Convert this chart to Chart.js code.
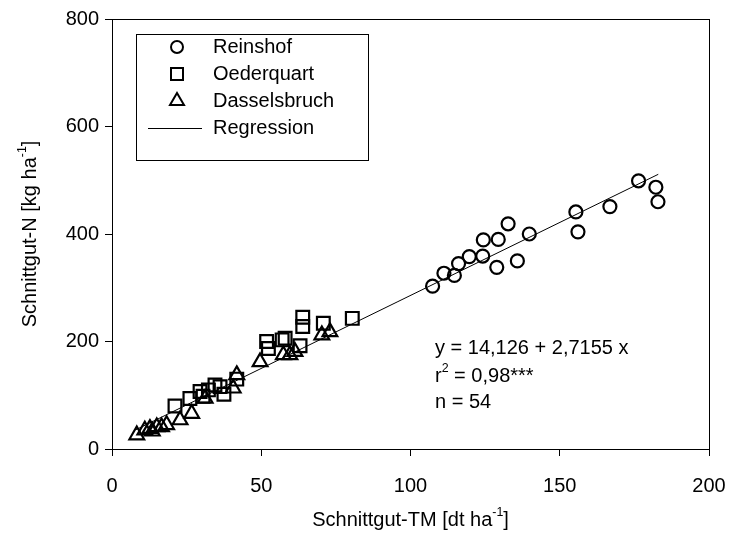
<!DOCTYPE html>
<html>
<head>
<meta charset="utf-8">
<script src="https://cdn.jsdelivr.net/npm/chart.js@4.4.1/dist/chart.umd.min.js"></script>
<style>
  body { margin: 0; background: #fff; }
  canvas { display: block; }
</style>
</head>
<body>
<canvas id="myChart" width="730" height="537"></canvas>
<script>
'use strict';
// data
let reinX = [107.4, 111.2, 114.7, 116.1, 119.7, 124.2, 124.4, 128.9, 129.4, 132.7, 135.8, 139.8, 155.4, 156.1, 166.8, 176.4, 182.2, 182.9];
let reinY = [303, 327, 323, 345, 358, 359, 389, 338, 390, 419, 350, 400, 441, 404, 451, 499, 487, 460];
let oedX = [21.1, 26.1, 29.5, 30.5, 32.3, 34.5, 36.2, 37.5, 41.8, 51.8, 52.4, 57, 58, 63, 63.9, 63.9, 70.8, 80.5];
let oedY = [80, 94, 107, 98, 110, 119, 116, 102, 130, 200, 187, 203, 206, 192, 245, 228, 234, 243];
let dasX = [8.3, 11, 12.7, 13.5, 15, 16.6, 18.3, 22.8, 26.7, 31.2, 40.6, 41.8, 49.6, 57.4, 59.6, 61.3, 70.3, 73];
let dasY = [26, 35, 38, 33, 41, 41, 45, 54, 66, 94, 113, 138, 162, 175, 175, 181, 212, 218];
let regX = [8, 183];
let regIntercept = 14.126;
let regSlope = 2.7155;
let xTicks = [0, 50, 100, 150, 200];
let yTicks = [0, 200, 400, 600, 800];
let legendNames = ['Reinshof', 'Oederquart', 'Dasselsbruch', 'Regression'];
let statLines = ['y = 14,126 + 2,7155 x', 'r2 = 0,98***', 'n = 54'];

const FONT = '"Liberation Sans", Arial, sans-serif';

function toPoints(xs, ys) {
  let pts = [];
  for (let i = 0; i < xs.length; i++) {
    pts.push({ x: xs[i], y: ys[i] });
  }
  return pts;
}
let regPoints = regX.map(x => ({ x: x, y: regIntercept + regSlope * x }));

// text with superscript pieces
function drawRich(ctx, parts, x, y, align, size) {
  let total = 0;
  parts.forEach(p => {
    ctx.font = (p.sup ? size * 0.62 : size) + 'px ' + FONT;
    total += ctx.measureText(p.t).width;
  });
  let cx = align === 'center' ? x - total / 2 : x;
  ctx.textBaseline = 'middle';
  ctx.textAlign = 'left';
  parts.forEach(p => {
    ctx.font = (p.sup ? size * 0.62 : size) + 'px ' + FONT;
    ctx.fillText(p.t, cx, p.sup ? y - size * 0.38 : y);
    cx += ctx.measureText(p.t).width;
  });
}

function marker(ctx, style, x, y) {
  ctx.beginPath();
  if (style === 'circle') {
    ctx.arc(x, y, 6, 0, Math.PI * 2);
  } else if (style === 'rect') {
    ctx.rect(x - 6, y - 6, 12, 12);
  } else {
    ctx.moveTo(x, y - 8);
    ctx.lineTo(x + 7, y + 4);
    ctx.lineTo(x - 7, y + 4);
    ctx.closePath();
  }
  ctx.stroke();
}

const extrasPlugin = {
  id: 'extras',
  afterDraw(chart) {
    let ctx = chart.ctx;
    let a = chart.chartArea;
    ctx.save();
    // frame
    ctx.strokeStyle = '#000';
    ctx.lineWidth = 1;
    ctx.strokeRect(Math.round(a.left) + 0.5, Math.round(a.top) + 0.5, Math.round(a.right - a.left), Math.round(a.bottom - a.top));

    // legend box
    ctx.strokeRect(136.5, 34.5, 232, 126);
    ctx.lineWidth = 2;
    let styles = ['circle', 'rect', 'triangle'];
    let rowY = [47, 74, 101, 128];
    for (let i = 0; i < 3; i++) {
      marker(ctx, styles[i], 177, rowY[i]);
    }
    ctx.lineWidth = 1;
    ctx.beginPath();
    ctx.moveTo(148, rowY[3] + 0.5);
    ctx.lineTo(202, rowY[3] + 0.5);
    ctx.stroke();
    ctx.fillStyle = '#000';
    ctx.font = '20px ' + FONT;
    ctx.textBaseline = 'middle';
    ctx.textAlign = 'left';
    for (let i = 0; i < legendNames.length; i++) {
      ctx.fillText(legendNames[i], 213, rowY[i]);
    }

    // statistics text
    ctx.fillText(statLines[0], 435, 348);
    drawRich(ctx, [{ t: 'r' }, { t: '2', sup: true }, { t: ' = 0,98***' }], 435, 376, 'left', 20);
    ctx.font = '20px ' + FONT;
    ctx.fillText(statLines[2], 435, 402);

    // axis titles
    drawRich(ctx, [{ t: 'Schnittgut-TM [dt ha' }, { t: '-1', sup: true }, { t: ']' }], (a.left + a.right) / 2, 520, 'center', 20);
    ctx.translate(30, (a.top + a.bottom) / 2);
    ctx.rotate(-Math.PI / 2);
    drawRich(ctx, [{ t: 'Schnittgut-N [kg ha' }, { t: '-1', sup: true }, { t: ']' }], 0, 0, 'center', 20);
    ctx.restore();
  }
};

let chartObject = {
  type: 'scatter',
  data: {
    datasets: [{
      label: legendNames[0],
      data: toPoints(reinX, reinY),
      pointStyle: 'circle',
      pointRadius: 6.5,
      borderWidth: 2.2,
      borderColor: '#000',
      backgroundColor: 'rgba(0,0,0,0)'
    },
    {
      label: legendNames[1],
      data: toPoints(oedX, oedY),
      pointStyle: 'rect',
      pointRadius: 9,
      borderWidth: 2.2,
      borderColor: '#000',
      backgroundColor: 'rgba(0,0,0,0)'
    },
    {
      label: legendNames[2],
      data: toPoints(dasX, dasY),
      pointStyle: 'triangle',
      pointRadius: 8.5,
      borderWidth: 2.2,
      borderColor: '#000',
      backgroundColor: 'rgba(0,0,0,0)'
    },
    {
      type: 'line',
      label: legendNames[3],
      data: regPoints,
      showLine: true,
      pointRadius: 0,
      borderWidth: 1,
      borderColor: '#000',
      fill: false
    }]
  },
  options: {
    responsive: false,
    animation: false,
    devicePixelRatio: 1,
    layout: { padding: { top: 19, right: 21, left: 0, bottom: 0 } },
    plugins: {
      legend: { display: false },
      tooltip: { enabled: false }
    },
    scales: {
      x: {
        type: 'linear',
        min: 0,
        max: 200,
        afterBuildTicks: s => { s.ticks = xTicks.map(v => ({ value: v })); },
        afterFit: s => { s.height = 88; s.paddingLeft = 0; s.paddingRight = 0; },
        grid: { drawOnChartArea: false, drawTicks: true, tickLength: 7, color: '#000' },
        border: { display: true, color: '#000' },
        ticks: { color: '#000', font: { family: FONT, size: 20 }, padding: 18, maxRotation: 0 }
      },
      y: {
        type: 'linear',
        min: 0,
        max: 800,
        afterBuildTicks: s => { s.ticks = yTicks.map(v => ({ value: v })); },
        afterFit: s => { s.width = 112; s.paddingTop = 0; s.paddingBottom = 0; },
        grid: { drawOnChartArea: false, drawTicks: true, tickLength: 7, color: '#000' },
        border: { display: true, color: '#000' },
        ticks: { color: '#000', font: { family: FONT, size: 20 }, padding: 6 }
      }
    }
  },
  plugins: [extrasPlugin]
};

let ctx = document.getElementById('myChart').getContext('2d');
let myChart = new Chart(ctx, chartObject);
</script>
</body>
</html>
